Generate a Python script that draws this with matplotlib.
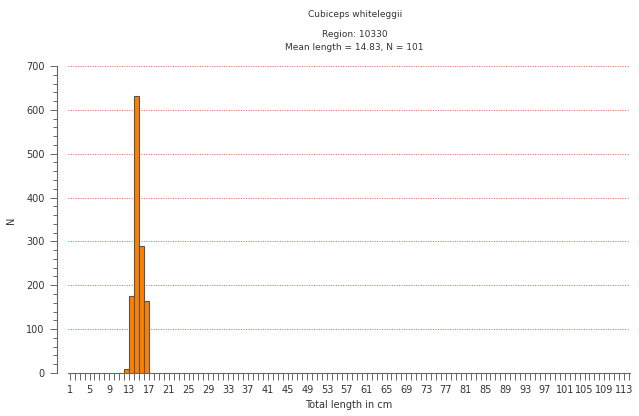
import numpy as np
import matplotlib
matplotlib.use("Agg")
import matplotlib.pyplot as plt
from matplotlib.ticker import MultipleLocator

# length classes (cm) and counts
lengths = [12, 13, 14, 15, 16]
counts = [10, 175, 631, 289, 163]
species = "Cubiceps whiteleggii"
region = "Region: 10330"
stats_txt = "Mean length = 14.83, N = 101"

fig = plt.figure(figsize=(6.39, 4.16), dpi=100)
ax = fig.add_axes([0.106, 0.1034, 0.88, 0.738])

ax.bar(lengths, counts, width=1.0, align="edge", color="#ff8000",
       edgecolor="#555555", linewidth=0.8, zorder=3)

ax.set_xlim(0.6, 114.2)
ax.set_ylim(0, 700)
ax.xaxis.set_minor_locator(MultipleLocator(1))
ax.set_xticks(np.arange(1, 114, 4))
ax.yaxis.set_major_locator(MultipleLocator(100))
ax.yaxis.set_minor_locator(MultipleLocator(20))

for y in range(100, 701, 100):
    ax.axhline(y, color="#ff5050", linestyle=(0, (1, 1.5)), linewidth=0.7, zorder=1)

for s in ["top", "right"]:
    ax.spines[s].set_visible(False)
ax.spines["left"].set_position(("outward", 8))
ax.spines["left"].set_color("#666666")
ax.spines["bottom"].set_color("#666666")

ax.tick_params(axis="both", which="both", colors="#666666", labelcolor="#333333",
               labelsize=7, width=0.7)
ax.tick_params(axis="x", which="both", length=5)
ax.tick_params(axis="y", which="major", length=5)
ax.tick_params(axis="y", which="minor", length=3)

ax.set_xlabel("Total length in cm", fontsize=7, color="#333333", labelpad=4)
fig.text(0.017, 0.47, "N", rotation=90, ha="center", va="center", fontsize=7, color="#333333")

fig.text(0.555, 0.965, species, ha="center", va="center", fontsize=6.5, color="#333333")
fig.text(0.555, 0.917, region, ha="center", va="center", fontsize=6.5, color="#333333")
fig.text(0.555, 0.887, stats_txt, ha="center", va="center", fontsize=6.5, color="#333333")

fig.savefig("out.png", dpi=100)
